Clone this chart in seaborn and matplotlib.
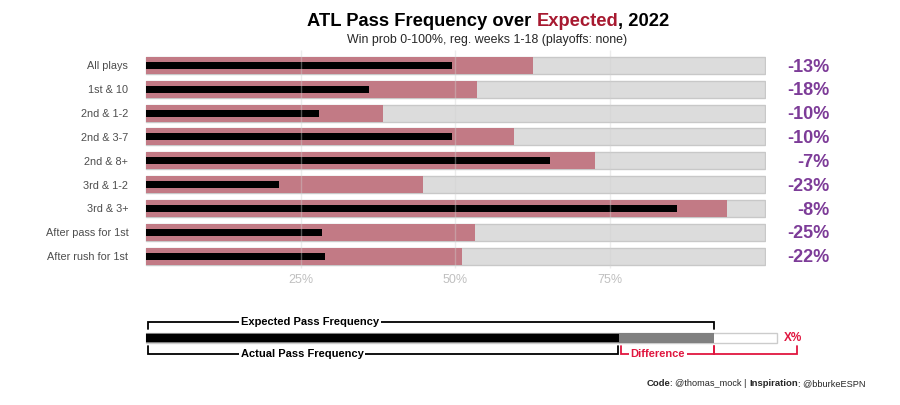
import matplotlib
matplotlib.use("Agg")
import matplotlib.pyplot as plt
from matplotlib import font_manager
import seaborn as sns
import pandas as pd

# --- data ---
situations = ["All plays", "1st & 10", "2nd & 1-2", "2nd & 3-7", "2nd & 8+",
              "3rd & 1-2", "3rd & 3+", "After pass for 1st", "After rush for 1st"]
expected = [62.6, 53.4, 38.2, 59.5, 72.6, 44.8, 93.9, 53.1, 51.0]
actual = [49.5, 36.0, 27.9, 49.5, 65.2, 21.5, 85.8, 28.4, 28.9]
diff_labels = [-13, -18, -10, -10, -7, -23, -8, -25, -22]
x_ticks = [25, 50, 75]

# legend key values (same % scale as the main panel)
key_actual = 76.5
key_expected = 91.8
key_box = 101.9

FALCONS_RED = "#a71930"
PINK = "#c27a85"
PURPLE = "#7d3c98"
KEY_RED = "#e0163f"

sns.set_style("white")
names = {f.name for f in font_manager.fontManager.ttflist}
NARROW = "Liberation Sans Narrow" if "Liberation Sans Narrow" in names else "Liberation Sans"
plt.rcParams["font.family"] = ["Liberation Sans", "DejaVu Sans"]

df = pd.DataFrame({"situation": situations, "expected": expected,
                   "actual": actual, "full": 100})

fig = plt.figure(figsize=(9, 4.05), dpi=100)
fig.patch.set_facecolor("white")

def px(x, y):
    return x / 900, 1 - y / 405

# --- main panel ---
ax = fig.add_axes([145 / 900, 1 - 268 / 405, 621 / 900, 214.5 / 405])
sns.barplot(data=df, y="situation", x="full", color="#dcdcdc", edgecolor="#c8c8c8",
            linewidth=1, width=0.72, saturation=1, ax=ax)
sns.barplot(data=df, y="situation", x="expected", color=PINK, linewidth=0,
            width=0.72, saturation=1, ax=ax)
sns.barplot(data=df, y="situation", x="actual", color="black", linewidth=0,
            width=0.3, saturation=1, ax=ax)

ax.vlines(x_ticks, -0.65, 8.5, color="#d0d0d0", alpha=0.4, lw=1, zorder=5, clip_on=False)

ax.set_xlim(-0.2, 100.2)
ax.set_ylim(8.5, -0.5)
ax.set_xticks(x_ticks)
ax.set_xticklabels([f"{v}%" for v in x_ticks], color="#c0c0c0", fontsize=9)
ax.tick_params(axis="x", length=0, pad=4)
ax.tick_params(axis="y", length=0, pad=12, labelsize=7.8, labelcolor="#4d4d4d")
ax.set_xlabel("")
ax.set_ylabel("")
sns.despine(ax=ax, left=True, bottom=True)

for i, d in enumerate(diff_labels):
    ax.text(110.5, i + 0.07, f"{d}%", ha="right", va="center", color=PURPLE,
            fontsize=13, fontweight="bold", clip_on=False)

# --- title with coloured word ---
title_parts = [("ATL Pass Frequency over ", "black"), ("Expected", FALCONS_RED), (", 2022", "black")]
prev = None
for txt, col in title_parts:
    if prev is None:
        prev = fig.text(*px(307, 30), txt, color=col, fontsize=13.25, fontweight="bold",
                        family=NARROW, ha="left", va="bottom")
    else:
        prev = ax.annotate(txt, xy=(1, 0), xycoords=prev, ha="left", va="bottom", color=col,
                           fontsize=13.25, fontweight="bold", family=NARROW,
                           annotation_clip=False)

fig.text(487 / 900, 1 - 40 / 405, "Win prob 0-100%, reg. weeks 1-18 (playoffs: none)",
         ha="center", va="center", fontsize=8.9, family=NARROW)

# --- legend key ---
lax = fig.add_axes([145 / 900, 1 - 370 / 405, 621 / 900, 60 / 405])
lax.set_xlim(-0.2, 100.2)
lax.set_ylim(370, 310)
lax.axis("off")
for b in lax.barh(337.7, key_box, height=10, color="white", edgecolor="#cccccc", linewidth=1):
    b.set_clip_on(False)
lax.barh(337.7, key_expected, height=10, color="#808080", linewidth=0)
lax.barh(338.3, key_actual, height=8, color="black", linewidth=0)

def bracket(x0, x1, y_line, y_tip, color, label=None, label_x=None):
    lax.plot([x0, x0, x1, x1], [y_tip, y_line, y_line, y_tip], color=color,
             lw=1.3, clip_on=False, solid_joinstyle="miter")
    if label:
        lax.text(label_x, y_line, label, ha="left", va="center", color=color,
                 fontsize=8, fontweight="bold", family=NARROW, clip_on=False,
                 bbox=dict(facecolor="white", edgecolor="none", pad=1.2))

bracket(0.3, key_expected, 322.5, 329.5, "black", "Expected Pass Frequency", 15.3)
bracket(0.3, 76.2, 354.5, 346.5, "black", "Actual Pass Frequency", 15.3)
bracket(76.8, key_expected, 354.5, 346.5, KEY_RED, "Difference", 78.3)
bracket(key_expected, 105.2, 354.5, 346.5, KEY_RED)
lax.text(104.5, 338, "X%", ha="center", va="center", color=KEY_RED,
         fontsize=8.5, fontweight="bold", family=NARROW, clip_on=False)

# --- caption with bold pieces ---
cap_parts = [("Code", "bold", 647, 6.8), (": @thomas_mock |", "normal", 670.5, 6.6),
             ("Inspiration", "bold", 749, 6.8), (": @bburkeESPN", "normal", 797.5, 6.6)]
for txt, w, xp, fs in cap_parts:
    fig.text(*px(xp, 384), txt, fontsize=fs, fontweight=w, ha="left", va="center")

fig.savefig("out.png", dpi=100, facecolor="white")
